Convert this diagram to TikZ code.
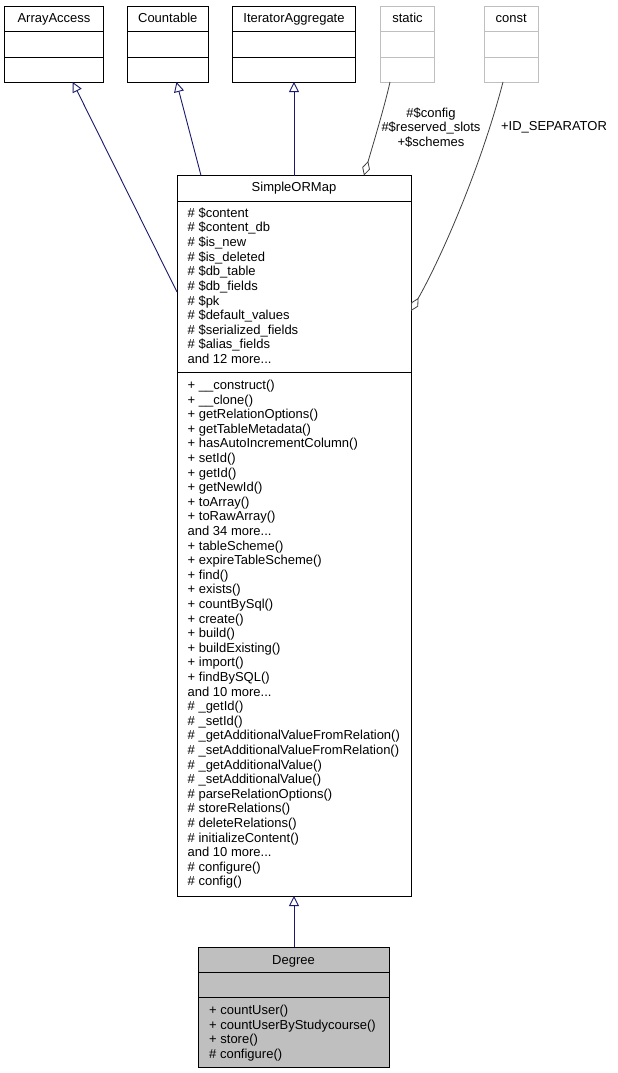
\documentclass[tikz,border=0pt]{standalone}
\usepackage{fontspec}
\setmainfont{Liberation Sans}
\usetikzlibrary{arrows.meta}
\definecolor{inh}{HTML}{191970}
\definecolor{agg}{HTML}{404040}
\definecolor{boxgray}{HTML}{BFBFBF}
\newcommand{\mydots}{...}
\begin{document}
\begin{tikzpicture}[x=1pt,y=-1pt,
  every node/.style={font=\fontsize{13}{14.6}\selectfont},
  box/.style={draw=black, line width=0.9pt, rectangle, inner sep=0pt, outer sep=0pt},
  ghost/.style={box, draw=boxgray},
  cur/.style={box, fill=boxgray},
  divline/.style={draw=black, line width=0.9pt},
  ghostdiv/.style={draw=boxgray, line width=0.9pt},
  txt/.style={inner sep=0pt, anchor=base west},
  ttl/.style={inner sep=0pt, anchor=base},
  inhedge/.style={draw=inh, line width=0.9pt, -{Triangle[open,length=10pt,width=10pt]}},
  aggedge/.style={draw=agg, line width=0.8pt, -{Diamond[open,length=15pt,width=8pt]}},
]
\fill[white] (0,0) rectangle (618,1073);
\useasboundingbox (0,0) rectangle (618,1073);

% top boxes
\node[box, minimum width=99pt, minimum height=76pt] (arr) at (54,44) {};
\node[box, minimum width=81.5pt, minimum height=76pt] (cnt) at (167.75,44) {};
\node[box, minimum width=123pt, minimum height=76pt] (itr) at (294,44) {};
\node[ghost, minimum width=54pt, minimum height=76pt] (sta) at (407.5,44) {};
\node[ghost, minimum width=54.5pt, minimum height=76pt] (cst) at (511.25,44) {};
\foreach \b in {arr,cnt,itr} {
  \draw[divline] (\b.west |- 0,31.7) -- (\b.east |- 0,31.7);
  \draw[divline] (\b.west |- 0,57) -- (\b.east |- 0,57);
}
\foreach \b in {sta,cst} {
  \draw[ghostdiv] (\b.west |- 0,31.7) -- (\b.east |- 0,31.7);
  \draw[ghostdiv] (\b.west |- 0,57) -- (\b.east |- 0,57);
}
\node[ttl] (tArr) at (54,22.3) {ArrayAccess};
\node[ttl] (tCnt) at (167.75,22.3) {Countable};
\node[ttl] (tItr) at (294,22.3) {IteratorAggregate};
\node[ttl] (tSta) at (407.5,22.3) {static};
\node[ttl] (tCst) at (511.25,22.3) {const};

% SimpleORMap
\node[box, minimum width=234pt, minimum height=720.5pt] (som) at (294,535.75) {};
\draw[divline] (som.west |- 0,201) -- (som.east |- 0,201);
\draw[divline] (som.west |- 0,372) -- (som.east |- 0,372);
\node[ttl] (tSom) at (294,191.5) {SimpleORMap};
\foreach \t [count=\i from 0] in {%
  \# \$content, \# \$content\_db, \# \$is\_new, \# \$is\_deleted,
  \# \$db\_table, \# \$db\_fields, \# \$pk, \# \$default\_values,
  \# \$serialized\_fields, \# \$alias\_fields, and 12 more\mydots}
  \node[txt] (sa\i) at (187.5, 217.3+14.63*\i) {\t};
\foreach \t [count=\i from 0] in {%
  + \_\_construct(), + \_\_clone(), + getRelationOptions(), + getTableMetadata(),
  + hasAutoIncrementColumn(), + setId(), + getId(), + getNewId(), + toArray(),
  + toRawArray(), and 34 more\mydots, + tableScheme(), + expireTableScheme(),
  + find(), + exists(), + countBySql(), + create(), + build(), + buildExisting(),
  + import(), + findBySQL(), and 10 more\mydots, \# \_getId(), \# \_setId(),
  \# \_getAdditionalValueFromRelation(), \# \_setAdditionalValueFromRelation(),
  \# \_getAdditionalValue(), \# \_setAdditionalValue(), \# parseRelationOptions(),
  \# storeRelations(), \# deleteRelations(), \# initializeContent(),
  and 10 more\mydots, \# configure(), \# config()}
  \node[txt] (sm\i) at (187.5, 389.5+14.6*\i) {\t};

% Degree
\node[cur, minimum width=191pt, minimum height=120pt] (deg) at (293.5,1007) {};
\draw[divline] (deg.west |- 0,972.5) -- (deg.east |- 0,972.5);
\draw[divline] (deg.west |- 0,997.5) -- (deg.east |- 0,997.5);
\node[ttl] (tDeg) at (293.5,964.3) {Degree};
\foreach \t [count=\i from 0] in {%
  + countUser(), + countUserByStudycourse(), + store(), \# configure()}
  \node[txt] (dm\i) at (209, 1014.5+14.6*\i) {\t};

% connectors
\coordinate (aTip) at (arr.south -| 72.7,0);
\coordinate (sA) at (som.west |- 0,292);
\draw[inhedge] (sA) -- (aTip);
\coordinate (cTip) at (cnt.south -| 176.5,0);
\coordinate (sC) at (som.north -| 201,0);
\draw[inhedge] (sC) -- (cTip);
\draw[inhedge] (som.north) -- (itr.south);
\coordinate (dTop) at (deg.north -| 294,0);
\draw[inhedge] (dTop) -- (som.south);

\coordinate (stB) at (sta.south -| 390,0);
\coordinate (sS) at (som.north -| 364,0);
\draw[aggedge] (stB) .. controls (385,105) and (372,148) .. (sS);
\coordinate (csB) at (cst.south -| 503,0);
\coordinate (sK) at (som.east |- 0,311);
\draw[aggedge] (csB) .. controls (480,170) and (440,260) .. (sK);

\node[align=center, inner sep=0pt] (lblS) at (431,127.5) {\#\$config\\\#\$reserved\_slots\\+\$schemes};
\node[inner sep=0pt] (lblC) at (554,127) {+ID\_SEPARATOR};
\end{tikzpicture}
\end{document}
